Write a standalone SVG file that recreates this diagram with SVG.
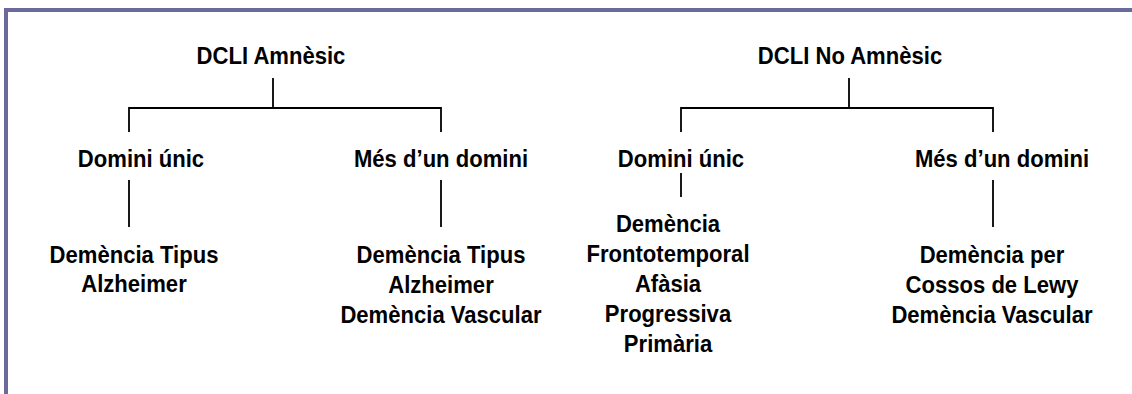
<svg xmlns="http://www.w3.org/2000/svg" width="1132" height="394" viewBox="0 0 1132 394">
<style>
text{font-family:"Liberation Sans",Arial,sans-serif;font-weight:bold;font-size:24px;fill:#000;text-anchor:middle}
.ln{fill:none;stroke:#000;stroke-width:1.8}
.fr{fill:none;stroke:#6a6a9c;stroke-width:4}
</style>
<rect width="1132" height="394" fill="#fff"/>
<path class="fr" d="M6 394 V10 H1132"/>
<g id="connectors">
<path class="ln" d="M129 132 V108 H441 V132"/>
<path class="ln" d="M273 78 V108"/>
<path class="ln" d="M681 132 V108 H993 V132"/>
<path class="ln" d="M849 78 V108"/>
<path class="ln" d="M129 180 V227"/>
<path class="ln" d="M441 180 V227"/>
<path class="ln" d="M681 173 V197"/>
<path class="ln" d="M993 180 V227"/>
</g>
<g id="n-amnesic"><text transform="translate(271,64) scale(0.92,1)">DCLI Amnèsic</text></g>
<g id="n-noamnesic"><text transform="translate(850,64) scale(0.92,1)">DCLI No Amnèsic</text></g>
<g id="n-a-unic"><text transform="translate(141,167) scale(0.92,1)">Domini únic</text></g>
<g id="n-a-mes"><text transform="translate(441,167) scale(0.92,1)">Més d’un domini</text></g>
<g id="n-n-unic"><text transform="translate(681,167) scale(0.92,1)">Domini únic</text></g>
<g id="n-n-mes"><text transform="translate(1002,167) scale(0.92,1)">Més d’un domini</text></g>
<g id="n-a-unic-res"><text transform="translate(134,263) scale(0.92,1)">Demència Tipus</text><text transform="translate(134,292) scale(0.92,1)">Alzheimer</text></g>
<g id="n-a-mes-res"><text transform="translate(441,263) scale(0.92,1)">Demència Tipus</text><text transform="translate(441,293) scale(0.92,1)">Alzheimer</text><text transform="translate(441,323) scale(0.92,1)">Demència Vascular</text></g>
<g id="n-n-unic-res"><text transform="translate(668,232) scale(0.92,1)">Demència</text><text transform="translate(668,262) scale(0.92,1)">Frontotemporal</text><text transform="translate(668,292) scale(0.92,1)">Afàsia</text><text transform="translate(668,322) scale(0.92,1)">Progressiva</text><text transform="translate(668,352) scale(0.92,1)">Primària</text></g>
<g id="n-n-mes-res"><text transform="translate(992,263) scale(0.92,1)">Demència per</text><text transform="translate(992,293) scale(0.92,1)">Cossos de Lewy</text><text transform="translate(992,323) scale(0.92,1)">Demència Vascular</text></g>
</svg>
